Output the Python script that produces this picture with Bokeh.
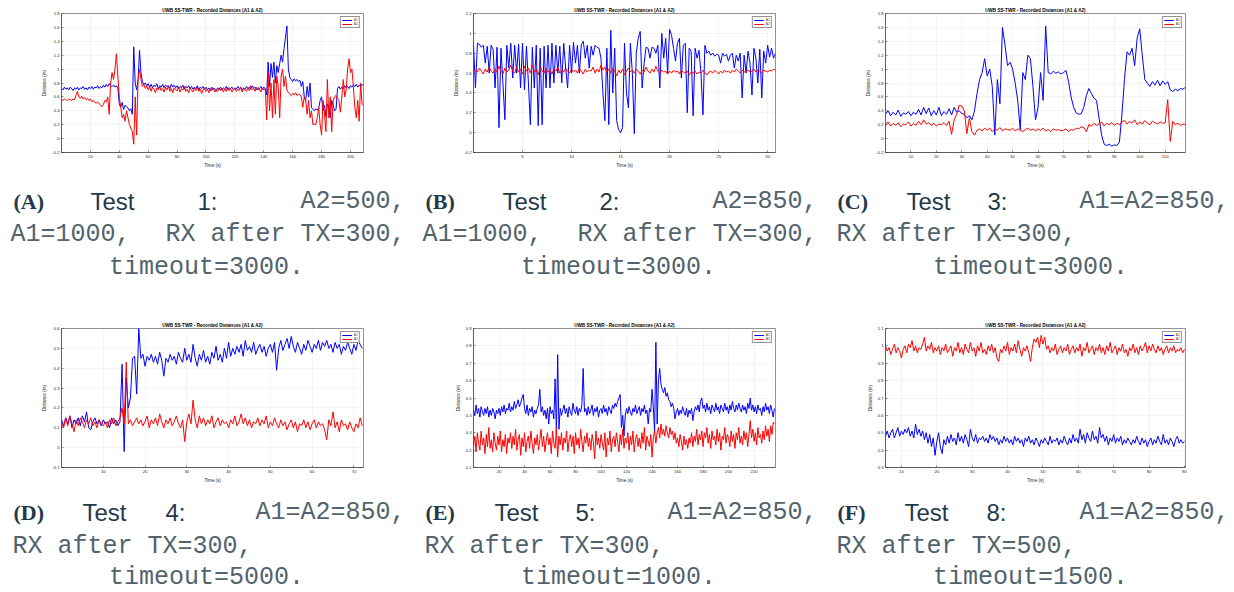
from bokeh.plotting import figure
from bokeh.layouts import column, row
from bokeh.models import Range1d, FixedTicker
from bokeh.core.properties import value
from bokeh.embed import file_html
from bokeh.resources import INLINE

TITLE = "UWB SS-TWR - Recorded Distances (A1 & A2)"

# ---------------- data ----------------
# Panel A: sample every 1 s from 0 s
a_dt = 1.0
a_a1 = [0.72,0.70,0.74,0.71,0.73,0.70,0.74,0.72,0.69,0.73,
        0.71,0.74,0.70,0.73,0.72,0.75,0.71,0.73,0.70,0.74,
        0.72,0.75,0.71,0.74,0.73,0.76,0.72,0.75,0.73,0.77,
        0.74,0.78,0.75,0.79,0.76,0.75,0.77,0.74,0.76,0.73,
        0.50,0.45,0.52,0.42,0.48,0.46,0.44,0.40,0.43,0.35,
        1.32,0.80,0.70,0.85,1.27,0.95,0.82,0.78,0.80,0.76,
        0.79,0.74,0.78,0.73,0.77,0.75,0.79,0.72,0.76,0.74,
        0.78,0.73,0.77,0.75,0.76,0.72,0.78,0.74,0.77,0.73,
        0.76,0.72,0.75,0.73,0.77,0.71,0.75,0.73,0.76,0.72,
        0.75,0.71,0.74,0.72,0.76,0.70,0.74,0.72,0.75,0.71,
        0.74,0.70,0.73,0.69,0.74,0.71,0.72,0.68,0.73,0.71,
        0.74,0.70,0.73,0.71,0.75,0.70,0.73,0.72,0.74,0.70,
        0.73,0.71,0.75,0.72,0.74,0.70,0.73,0.71,0.75,0.72,
        0.74,0.71,0.76,0.72,0.74,0.70,0.73,0.72,0.75,0.71,
        0.74,0.72,0.63,1.10,0.75,1.08,0.88,1.10,0.80,1.05,
        0.95,1.08,1.20,1.10,1.30,1.45,1.62,1.00,0.88,0.85,
        0.82,0.86,0.83,0.85,0.82,0.84,0.75,0.82,0.60,0.55,
        0.75,0.60,0.80,0.45,0.42,0.40,0.43,0.41,0.44,0.55,
        0.60,0.40,0.48,0.32,0.50,0.45,0.30,0.55,0.48,0.40,
        0.42,0.72,0.75,0.71,0.74,0.72,0.76,0.73,0.75,0.72,
        0.76,0.74,0.77,0.75,0.78,0.74,0.77,0.75,0.78,0.76]
a_a2 = [0.56,0.55,0.57,0.56,0.55,0.57,0.56,0.55,0.57,0.56,
        0.62,0.68,0.60,0.58,0.61,0.57,0.59,0.56,0.58,0.55,
        0.57,0.53,0.55,0.52,0.51,0.53,0.50,0.48,0.46,0.49,
        0.55,0.53,0.60,0.35,0.80,0.95,0.85,1.00,1.22,0.90,
        0.60,0.45,0.30,0.35,0.25,0.40,0.30,0.20,0.15,0.10,
        -0.08,0.60,0.05,0.85,1.00,0.85,0.75,0.78,0.72,0.76,
        0.70,0.75,0.68,0.74,0.71,0.66,0.73,0.70,0.75,0.69,
        0.72,0.67,0.74,0.70,0.76,0.68,0.72,0.66,0.73,0.70,
        0.69,0.74,0.67,0.72,0.70,0.75,0.68,0.71,0.66,0.73,
        0.70,0.67,0.72,0.69,0.74,0.68,0.71,0.65,0.70,0.73,
        0.68,0.71,0.66,0.72,0.69,0.73,0.67,0.70,0.68,0.72,
        0.69,0.73,0.67,0.71,0.68,0.74,0.69,0.72,0.67,0.70,
        0.73,0.68,0.71,0.69,0.74,0.67,0.72,0.70,0.68,0.73,
        0.69,0.76,0.70,0.72,0.68,0.74,0.70,0.71,0.67,0.73,
        0.70,0.72,0.27,0.95,0.40,0.80,0.30,0.85,0.35,0.90,
        0.75,0.30,0.90,1.00,0.75,0.90,0.70,0.66,0.64,0.62,
        0.65,0.63,0.66,0.62,0.64,0.63,0.60,0.45,0.60,0.55,
        0.35,0.55,0.30,0.40,0.20,0.21,0.20,0.30,0.45,0.20,
        0.05,0.55,0.35,0.10,0.85,0.30,0.60,0.10,0.55,0.60,
        0.62,0.58,0.55,0.38,0.60,0.85,0.60,0.70,1.00,1.15,
        0.95,1.00,0.75,0.45,0.30,0.55,0.25,0.80,0.50,0.48]

# Panel B: sample every 0.2 s from 0 s
b_dt = 0.2
b_a1 = [0.88,0.45,0.90,0.89,0.86,0.88,0.70,0.87,0.60,0.88,
        0.84,0.45,0.86,0.05,0.85,0.50,0.13,0.88,0.65,0.90,
        0.55,0.88,0.60,0.89,0.45,0.90,0.43,0.87,0.50,0.08,
        0.86,0.45,0.88,0.07,0.85,0.08,0.87,0.45,0.88,0.45,
        0.90,0.50,0.88,0.60,0.87,0.50,0.90,0.65,0.45,0.88,
        0.60,0.91,0.70,0.88,0.60,0.89,0.92,0.75,0.88,0.65,
        0.87,0.78,0.88,0.86,0.85,0.75,0.40,0.12,0.85,0.08,
        1.03,0.40,0.85,0.12,0.03,0.00,0.05,0.90,0.40,0.25,
        0.90,0.60,-0.01,0.80,0.95,1.02,0.45,0.70,0.86,0.85,
        0.75,0.86,0.85,0.80,0.88,0.45,1.00,0.75,0.95,0.60,
        1.04,0.98,0.85,0.72,0.90,0.95,0.55,0.88,0.90,0.20,
        0.85,0.82,0.17,0.85,0.75,0.83,0.60,0.18,0.88,0.80,
        0.82,0.78,0.80,0.77,0.79,0.78,0.70,0.80,0.77,0.79,
        0.72,0.78,0.80,0.65,0.78,0.72,0.80,0.35,0.78,0.60,
        0.82,0.70,0.38,0.85,0.75,0.50,0.84,0.35,0.82,0.70,
        0.88,0.76,0.85,0.75,0.80]
b_a2 = [0.60,0.63,0.61,0.65,0.62,0.59,0.64,0.61,0.66,0.62,
        0.60,0.64,0.61,0.67,0.62,0.59,0.65,0.61,0.63,0.68,
        0.62,0.60,0.66,0.61,0.64,0.59,0.67,0.62,0.65,0.60,
        0.68,0.61,0.64,0.58,0.66,0.62,0.60,0.65,0.61,0.63,
        0.59,0.64,0.62,0.66,0.60,0.63,0.61,0.65,0.62,0.60,
        0.64,0.61,0.63,0.60,0.65,0.62,0.59,0.64,0.61,0.63,
        0.62,0.66,0.60,0.64,0.61,0.68,0.63,0.66,0.61,0.64,
        0.60,0.65,0.62,0.57,0.63,0.60,0.64,0.58,0.62,0.65,
        0.61,0.63,0.60,0.64,0.62,0.59,0.63,0.61,0.66,0.62,
        0.60,0.64,0.61,0.67,0.62,0.60,0.63,0.61,0.62,0.59,
        0.62,0.60,0.63,0.61,0.62,0.59,0.63,0.61,0.60,0.62,
        0.58,0.61,0.60,0.62,0.59,0.61,0.60,0.63,0.60,0.58,
        0.61,0.62,0.60,0.63,0.61,0.59,0.62,0.60,0.63,0.61,
        0.62,0.60,0.63,0.61,0.64,0.62,0.60,0.63,0.61,0.62,
        0.63,0.61,0.62,0.64,0.61,0.63,0.62,0.60,0.63,0.62,
        0.61,0.63,0.62,0.64,0.63]

# Panel C: sample every 1 s from 0 s
c_dt = 1.0
c_a1 = [0.35,0.40,0.33,0.38,0.34,0.41,0.32,0.37,0.35,0.39,
        0.33,0.38,0.35,0.42,0.34,0.45,0.36,0.44,0.33,0.40,
        0.34,0.45,0.33,0.39,0.35,0.43,0.34,0.45,0.38,0.40,
        0.36,0.35,0.30,0.33,0.27,0.40,0.65,0.85,0.95,1.15,
        0.90,1.00,0.75,0.05,0.85,0.50,1.60,1.35,1.05,1.10,
        1.00,0.80,0.55,0.13,0.95,0.85,1.20,1.15,0.75,0.27,
        0.45,0.95,0.55,1.62,0.95,0.93,0.97,0.94,0.96,0.93,
        0.95,0.98,0.82,0.60,0.45,0.37,0.35,0.36,0.45,0.62,
        0.72,0.65,0.58,0.55,0.30,0.05,-0.08,-0.10,-0.08,-0.11,
        -0.09,-0.10,-0.05,0.35,0.85,1.25,1.20,1.30,1.05,1.45,
        1.58,1.20,0.85,0.80,0.75,0.82,0.77,0.84,0.76,0.83,
        0.78,0.82,0.70,0.68,0.71,0.69,0.72,0.71,0.74]
c_a2 = [0.20,0.24,0.18,0.22,0.19,0.23,0.17,0.21,0.20,0.24,
        0.18,0.22,0.19,0.25,0.20,0.27,0.21,0.23,0.19,0.22,
        0.18,0.21,0.20,0.23,0.19,0.25,0.06,0.27,0.35,0.48,
        0.47,0.40,0.07,0.30,0.10,0.05,0.12,0.14,0.11,0.15,
        0.12,0.15,0.10,0.14,0.12,0.16,0.11,0.14,0.13,0.12,
        0.15,0.11,0.14,0.12,0.10,0.13,0.15,0.12,0.14,0.11,
        0.14,0.12,0.15,0.11,0.13,0.10,0.14,0.12,0.13,0.11,
        0.12,0.14,0.10,0.13,0.12,0.15,0.14,0.17,0.16,0.10,
        0.20,0.18,0.22,0.19,0.21,0.24,0.18,0.22,0.20,0.23,
        0.19,0.22,0.20,0.24,0.26,0.21,0.25,0.22,0.27,0.20,
        0.24,0.21,0.26,0.22,0.20,0.25,0.23,0.21,0.24,0.22,
        0.23,0.56,-0.04,0.25,0.20,0.22,0.19,0.21,0.20]

# Panel D: sample every 0.5 s from 0 s
d_dt = 0.5
d_a1 = [0.14,0.11,0.15,0.12,0.16,0.10,0.14,0.12,0.15,0.11,
        0.16,0.13,0.18,0.10,0.09,0.13,0.15,0.12,0.14,0.11,
        0.14,0.12,0.13,0.10,0.15,0.12,0.14,0.11,0.13,0.42,
        -0.02,0.35,0.20,0.25,0.45,0.46,0.27,0.60,0.45,0.47,
        0.41,0.46,0.44,0.47,0.43,0.46,0.42,0.48,0.44,0.36,
        0.45,0.43,0.47,0.44,0.46,0.42,0.48,0.45,0.43,0.50,
        0.44,0.47,0.43,0.52,0.45,0.41,0.47,0.44,0.49,0.43,
        0.46,0.42,0.48,0.45,0.51,0.44,0.47,0.43,0.50,0.45,
        0.53,0.46,0.50,0.47,0.51,0.48,0.52,0.46,0.54,0.49,
        0.51,0.48,0.53,0.47,0.50,0.52,0.48,0.51,0.46,0.50,
        0.52,0.48,0.53,0.39,0.50,0.54,0.49,0.52,0.55,0.50,
        0.56,0.51,0.48,0.53,0.50,0.47,0.52,0.49,0.54,0.51,
        0.48,0.52,0.50,0.54,0.49,0.53,0.51,0.54,0.50,0.52,
        0.48,0.53,0.50,0.52,0.47,0.51,0.49,0.53,0.50,0.47,
        0.52,0.49,0.54,0.52,0.50]
d_a2 = [0.12,0.10,0.15,0.11,0.16,0.12,0.08,0.14,0.11,0.15,
        0.13,0.10,0.14,0.12,0.15,0.11,0.13,0.10,0.14,0.12,
        0.11,0.13,0.10,0.14,0.12,0.15,0.11,0.13,0.15,0.20,
        0.12,0.43,0.12,0.14,0.11,0.13,0.15,0.12,0.14,0.11,
        0.13,0.16,0.10,0.14,0.12,0.15,0.11,0.17,0.13,0.10,
        0.14,0.12,0.15,0.11,0.13,0.16,0.12,0.10,0.14,0.03,
        0.13,0.17,0.12,0.24,0.14,0.10,0.16,0.12,0.15,0.11,
        0.14,0.12,0.16,0.10,0.13,0.15,0.11,0.14,0.12,0.13,
        0.10,0.14,0.12,0.16,0.11,0.13,0.17,0.12,0.15,0.11,
        0.14,0.10,0.13,0.12,0.15,0.11,0.14,0.12,0.16,0.10,
        0.13,0.11,0.15,0.12,0.10,0.14,0.11,0.13,0.09,0.12,
        0.14,0.10,0.13,0.08,0.12,0.11,0.14,0.10,0.13,0.09,
        0.12,0.14,0.10,0.13,0.11,0.12,0.09,0.04,0.14,0.11,
        0.18,0.10,0.13,0.08,0.14,0.11,0.12,0.09,0.13,0.10,
        0.08,0.12,0.10,0.15,0.11]

# Panel E: sample every 1 s from 0 s
e_dt = 1.0
e_a1 = [0.43,0.40,0.46,0.41,0.44,0.39,0.45,0.42,0.40,0.44,
        0.41,0.45,0.39,0.43,0.40,0.44,0.42,0.38,0.43,0.41,
        0.44,0.40,0.45,0.42,0.46,0.41,0.44,0.43,0.47,0.42,
        0.45,0.43,0.48,0.44,0.46,0.49,0.45,0.47,0.50,0.52,
        0.44,0.41,0.46,0.40,0.44,0.42,0.45,0.39,0.43,0.41,
        0.44,0.46,0.55,0.42,0.45,0.40,0.43,0.38,0.44,0.35,
        0.45,0.41,0.43,0.38,0.61,0.30,0.75,0.32,0.44,0.40,
        0.43,0.46,0.41,0.44,0.39,0.45,0.42,0.40,0.47,0.43,
        0.41,0.45,0.40,0.44,0.42,0.46,0.67,0.42,0.44,0.40,
        0.45,0.41,0.43,0.46,0.40,0.44,0.42,0.45,0.39,0.43,
        0.44,0.41,0.46,0.42,0.44,0.40,0.45,0.43,0.41,0.46,
        0.44,0.47,0.45,0.48,0.50,0.52,0.33,0.40,0.28,0.40,
        0.44,0.41,0.45,0.42,0.40,0.44,0.42,0.46,0.41,0.43,
        0.45,0.40,0.44,0.42,0.46,0.41,0.43,0.35,0.44,0.42,
        0.55,0.45,0.30,0.82,0.35,0.60,0.67,0.58,0.55,0.53,
        0.56,0.51,0.53,0.49,0.48,0.45,0.47,0.44,0.38,0.42,
        0.44,0.40,0.43,0.41,0.45,0.42,0.40,0.44,0.39,0.43,
        0.41,0.44,0.37,0.42,0.45,0.43,0.46,0.42,0.48,0.50,
        0.44,0.46,0.42,0.47,0.43,0.45,0.41,0.46,0.44,0.42,
        0.47,0.43,0.45,0.41,0.46,0.44,0.42,0.47,0.43,0.45,
        0.41,0.46,0.43,0.48,0.44,0.42,0.46,0.43,0.47,0.44,
        0.42,0.46,0.43,0.45,0.41,0.47,0.44,0.50,0.43,0.46,
        0.42,0.45,0.41,0.46,0.43,0.44,0.40,0.45,0.42,0.47,
        0.43,0.45,0.41,0.46,0.43,0.39,0.44]
e_a2 = [0.22,0.28,0.19,0.30,0.24,0.20,0.31,0.23,0.27,0.18,
        0.29,0.22,0.33,0.21,0.26,0.19,0.30,0.24,0.20,0.28,
        0.23,0.31,0.19,0.26,0.22,0.29,0.18,0.27,0.24,0.30,
        0.21,0.28,0.23,0.32,0.20,0.26,0.29,0.17,0.27,0.22,
        0.30,0.19,0.25,0.28,0.21,0.31,0.24,0.18,0.27,0.23,
        0.29,0.20,0.26,0.32,0.22,0.28,0.19,0.25,0.30,0.23,
        0.27,0.18,0.31,0.24,0.21,0.33,0.16,0.28,0.23,0.30,
        0.20,0.27,0.24,0.31,0.19,0.26,0.29,0.22,0.28,0.18,
        0.30,0.23,0.27,0.21,0.32,0.25,0.19,0.28,0.24,0.30,
        0.22,0.27,0.20,0.29,0.25,0.15,0.31,0.23,0.27,0.21,
        0.29,0.24,0.20,0.30,0.16,0.27,0.23,0.31,0.19,0.26,
        0.28,0.22,0.30,0.25,0.19,0.29,0.23,0.32,0.21,0.27,
        0.24,0.30,0.20,0.28,0.23,0.31,0.19,0.26,0.29,0.22,
        0.27,0.21,0.30,0.24,0.33,0.20,0.28,0.25,0.22,0.29,
        0.16,0.27,0.31,0.24,0.30,0.33,0.27,0.35,0.29,0.32,
        0.28,0.34,0.30,0.27,0.33,0.29,0.31,0.26,0.30,0.24,
        0.27,0.22,0.29,0.25,0.20,0.28,0.23,0.26,0.21,0.27,
        0.24,0.30,0.22,0.28,0.25,0.32,0.23,0.29,0.26,0.31,
        0.22,0.30,0.27,0.33,0.24,0.29,0.21,0.31,0.26,0.28,
        0.23,0.32,0.25,0.30,0.20,0.28,0.26,0.33,0.24,0.29,
        0.27,0.22,0.31,0.25,0.29,0.21,0.30,0.26,0.33,0.24,
        0.28,0.23,0.31,0.26,0.30,0.22,0.29,0.37,0.27,0.32,
        0.25,0.30,0.23,0.33,0.27,0.29,0.24,0.31,0.26,0.34,
        0.28,0.32,0.25,0.34,0.29,0.36,0.35]

# Panel F: sample every 0.5 s from 5.5 s
f_t0 = 5.5
f_dt = 0.5
f_a1 = [0.48,0.51,0.47,0.50,0.52,0.47,0.50,0.53,0.48,0.51,
        0.49,0.52,0.50,0.53,0.48,0.51,0.47,0.55,0.49,0.52,
        0.48,0.51,0.46,0.50,0.44,0.49,0.42,0.47,0.37,0.45,
        0.50,0.42,0.38,0.46,0.43,0.48,0.44,0.49,0.45,0.47,
        0.43,0.50,0.45,0.48,0.44,0.49,0.46,0.42,0.52,0.47,
        0.45,0.49,0.44,0.47,0.46,0.48,0.45,0.47,0.44,0.49,
        0.46,0.48,0.45,0.47,0.43,0.46,0.44,0.48,0.45,0.47,
        0.44,0.46,0.43,0.48,0.45,0.47,0.44,0.46,0.42,0.47,
        0.45,0.48,0.44,0.46,0.43,0.47,0.45,0.42,0.46,0.44,
        0.47,0.45,0.43,0.48,0.44,0.46,0.45,0.47,0.43,0.46,
        0.44,0.48,0.45,0.43,0.47,0.44,0.49,0.45,0.47,0.44,
        0.52,0.46,0.49,0.44,0.50,0.47,0.45,0.51,0.46,0.48,
        0.44,0.53,0.47,0.49,0.45,0.48,0.43,0.47,0.45,0.49,
        0.44,0.47,0.45,0.48,0.43,0.46,0.44,0.47,0.45,0.43,
        0.46,0.44,0.48,0.45,0.43,0.47,0.44,0.46,0.42,0.45,
        0.47,0.43,0.46,0.44,0.48,0.45,0.43,0.49,0.44,0.46,
        0.43,0.47,0.45,0.42,0.46,0.48,0.44,0.46,0.44,0.45]
f_a2 = [1.00,0.97,0.99,0.95,0.98,1.01,0.96,0.99,0.97,0.93,
        0.98,1.00,0.96,1.01,0.99,1.03,0.97,1.00,0.96,0.99,
        0.98,1.01,1.05,0.97,1.00,0.98,1.02,0.96,0.99,0.97,
        1.00,0.95,0.99,0.97,1.01,0.96,0.98,1.00,0.94,0.99,
        0.97,1.02,0.96,0.99,0.95,1.01,0.98,0.96,1.02,0.97,
        0.99,0.94,1.00,0.97,1.02,0.96,0.98,0.95,1.00,0.97,
        1.01,0.96,0.99,0.93,0.91,0.98,0.96,1.00,0.97,1.02,
        0.95,0.99,0.97,1.01,0.96,1.03,0.98,0.94,0.99,0.97,
        1.00,0.96,0.91,0.99,1.04,1.02,1.05,0.99,1.06,1.01,
        1.05,0.98,1.00,0.96,0.99,0.97,1.01,0.95,0.98,1.00,
        0.96,0.99,0.97,1.01,0.95,0.98,1.00,0.96,0.99,0.97,
        1.01,0.94,0.99,0.97,1.02,0.96,0.98,1.00,0.95,0.99,
        0.97,1.01,0.96,0.99,0.95,1.00,0.97,1.02,0.96,0.98,
        1.00,0.95,0.99,0.97,1.01,0.96,0.98,0.94,0.99,0.97,
        1.01,0.96,0.99,0.95,1.00,0.97,0.99,1.02,0.96,1.00,
        0.97,1.01,0.98,0.96,1.00,0.97,0.99,0.95,0.98,1.00,
        0.96,0.99,0.97,1.00,0.96,0.98,0.97,0.99,0.96,0.98]

# axis tick labels
y_labels_a = ["-0.2","0","0.2","0.4","0.6","0.8","1","1.2","1.4","1.6","1.8"]
y_labels_b = ["-0.2","0","0.2","0.4","0.6","0.8","1","1.2"]
y_labels_d = ["-0.1","0","0.1","0.2","0.3","0.4","0.5","0.6"]
y_labels_e = ["0.1","0.2","0.3","0.4","0.5","0.6","0.7","0.8","0.9"]
y_labels_f = ["0.3","0.4","0.5","0.6","0.7","0.8","0.9","1","1.1"]
x_labels_a = ["20","40","60","80","100","120","140","160","180","200"]
x_labels_b = ["5","10","15","20","25","30"]
x_labels_c = ["10","20","30","40","50","60","70","80","90","100","110"]
x_labels_d = ["10","20","30","40","50","60","70"]
x_labels_e = ["20","40","60","80","100","120","140","160","180","200","220"]
x_labels_f = ["10","20","30","40","50","60","70","80","90"]

# captions
cap_tag = ["(A)", "(B)", "(C)", "(D)", "(E)", "(F)"]
cap_num = ["1:", "2:", "3:", "4:", "5:", "8:"]
cap_l1 = ["A2=500,", "A2=850,", "A1=A2=850,", "A1=A2=850,", "A1=A2=850,", "A1=A2=850,"]
cap_l2a = ["A1=1000,", "A1=1000,", "", "", "", ""]
cap_l2b = ["RX after TX=300,", "RX after TX=300,", "RX after TX=300,",
           "RX after TX=300,", "RX after TX=300,", "RX after TX=500,"]
cap_l3 = ["timeout=3000.", "timeout=3000.", "timeout=3000.",
          "timeout=5000.", "timeout=1000.", "timeout=1500."]

# ---------------- layout / style ----------------
FONT = "Liberation Sans"
AX = "#262626"
BLUE = "#0000ff"
RED = "#ff0000"
CAP_DARK = "#1f3a4a"
CAP_MONO = "#52636e"


def times(t0, dt, n):
    return [t0 + dt * i for i in range(n)]


def chart(w, h, t0, dt, a1, a2, xr, yr, xl, yl):
    p = figure(width=w, height=h, x_range=Range1d(*xr), y_range=Range1d(*yr),
               output_backend="svg", toolbar_location=None,
               min_border_left=61, min_border_right=49,
               min_border_top=13, min_border_bottom=h - 13 - 139)
    p.title.text = TITLE
    p.title.align = "center"
    p.title.text_font = FONT
    p.title.text_font_size = "4.6px"
    p.title.text_font_style = "bold"
    p.title.text_color = "#000000"
    p.title.standoff = 1
    p.title.offset = 0
    p.line(times(t0, dt, len(a1)), a1, color=BLUE, line_width=1.0, legend_label="A1")
    p.line(times(t0, dt, len(a2)), a2, color=RED, line_width=1.0, legend_label="A2")
    xt = [float(s) for s in xl]
    yt = [float(s) for s in yl]
    p.xaxis.ticker = FixedTicker(ticks=xt)
    p.yaxis.ticker = FixedTicker(ticks=yt)
    p.xaxis.major_label_overrides = {v: s for v, s in zip(xt, xl)}
    p.yaxis.major_label_overrides = {v: s for v, s in zip(yt, yl)}
    p.xaxis.axis_label = "Time (s)"
    p.yaxis.axis_label = "Distance (m)"
    for ax in (p.xaxis[0], p.yaxis[0]):
        ax.axis_line_color = AX
        ax.axis_line_width = 0.5
        ax.major_tick_line_color = AX
        ax.major_tick_line_width = 0.5
        ax.major_tick_in = 2
        ax.major_tick_out = 0
        ax.minor_tick_line_color = None
        ax.major_label_text_font = FONT
        ax.major_label_text_font_size = "4.2px"
        ax.major_label_text_color = AX
        ax.major_label_standoff = 2
        ax.axis_label_text_font = FONT
        ax.axis_label_text_font_size = "4.6px"
        ax.axis_label_text_font_style = "normal"
        ax.axis_label_text_color = AX
        ax.axis_label_standoff = 2
    p.grid.grid_line_color = "#e8e8e8"
    p.grid.grid_line_width = 0.5
    p.outline_line_color = AX
    p.outline_line_width = 0.5
    lg = p.legend[0]
    lg.location = "top_right"
    lg.margin = 3
    lg.padding = 1
    lg.spacing = 0
    lg.label_text_font = FONT
    lg.label_text_font_size = "3.4px"
    lg.label_height = 4
    lg.label_width = 4
    lg.glyph_height = 4
    lg.glyph_width = 10
    lg.label_standoff = 2
    lg.border_line_color = AX
    lg.border_line_width = 0.5
    lg.background_fill_alpha = 1
    return p


H1 = 175
H2 = 170
pa = chart(412, H1, 0, a_dt, a_a1, a_a2, (0, 209), (-0.2, 1.8), x_labels_a, y_labels_a)
pb = chart(412, H1, 0, b_dt, b_a1, b_a2, (0, 30.8), (-0.2, 1.2), x_labels_b, y_labels_b)
pc = chart(410, H1, 0, c_dt, c_a1, c_a2, (0, 118), (-0.2, 1.8), x_labels_c, y_labels_a)
pd = chart(412, H2, 0, d_dt, d_a1, d_a2, (0, 72.3), (-0.1, 0.6), x_labels_d, y_labels_d)
pe = chart(412, H2, 0, e_dt, e_a1, e_a2, (0, 236.8), (0.1, 0.9), x_labels_e, y_labels_e)
pf = chart(410, H2, f_t0, f_dt, f_a1, f_a2, (5.5, 90.3), (0.3, 1.1), x_labels_f, y_labels_f)

# caption placement (panel-relative pixels)
panel_x = [0, 412, 824, 0, 412, 824]
test_x = [90, 90, 82, 82, 82, 80]
num_x = [197, 187, 163, 165, 163, 162]


def caption(h, idxs, base):
    p = figure(width=1234, height=h, x_range=Range1d(0, 1234), y_range=Range1d(h, 0),
               output_backend="svg", toolbar_location=None,
               x_axis_location=None, y_axis_location=None,
               min_border_left=0, min_border_right=0, min_border_top=0, min_border_bottom=0)
    p.grid.visible = False
    p.outline_line_color = None
    b1, b2, b3 = base
    tx, ty, tt = [], [], []
    sx, sy, st = [], [], []
    m1x, m1y, m1t = [], [], []
    mlx, mly, mlt = [], [], []
    mcx, mcy, mct = [], [], []
    for i in idxs:
        ox = panel_x[i]
        tx.append(ox + 13); ty.append(b1); tt.append(cap_tag[i])
        sx += [ox + test_x[i], ox + num_x[i]]; sy += [b1, b1]; st += ["Test", cap_num[i]]
        m1x.append(ox + 405); m1y.append(b1); m1t.append(cap_l1[i])
        if cap_l2a[i]:
            mlx.append(ox + 10); mly.append(b2); mlt.append(cap_l2a[i])
            m1x.append(ox + 405); m1y.append(b2); m1t.append(cap_l2b[i])
        else:
            mlx.append(ox + 12); mly.append(b2); mlt.append(cap_l2b[i])
        mcx.append(ox + 206); mcy.append(b3); mct.append(cap_l3[i])
    p.text(tx, ty, text=tt, text_font=value("Liberation Serif"), text_font_style="bold",
           text_font_size="22px", text_color=CAP_DARK, text_baseline="alphabetic")
    p.text(sx, sy, text=st, text_font=value(FONT), text_font_size="24px",
           text_color=CAP_DARK, text_baseline="alphabetic")
    mono = dict(text_font=value("Liberation Mono"), text_font_size="25px",
                text_color=CAP_MONO, text_baseline="alphabetic")
    p.text(m1x, m1y, text=m1t, text_align="right", **mono)
    p.text(mlx, mly, text=mlt, text_align="left", **mono)
    p.text(mcx, mcy, text=mct, text_align="center", **mono)
    return p


cap1 = caption(140, [0, 1, 2], (26, 59, 92))
cap2 = caption(592 - 315 - H2, [3, 4, 5], (27, 61, 92))

layout = column(row(pa, pb, pc), cap1, row(pd, pe, pf), cap2)
open("out.html", "w").write(file_html(layout, INLINE))
